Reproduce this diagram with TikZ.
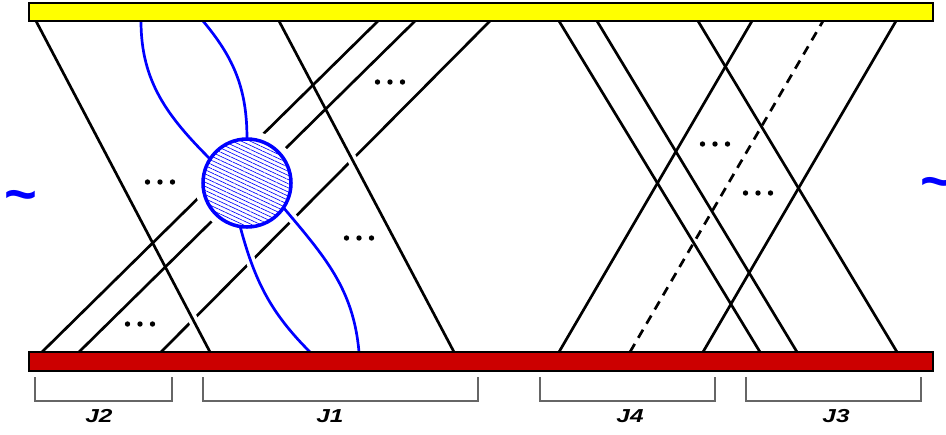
\documentclass[tikz,border=0pt]{standalone}
\usepackage{fontspec}
\setmainfont{Liberation Sans}
\usetikzlibrary{patterns.meta}
\definecolor{baryellow}{HTML}{FFFF00}
\definecolor{barred}{HTML}{CC0000}
\definecolor{brackgrey}{HTML}{666666}

\tikzset{
  strand/.style={line width=2.3pt},
  overstrand/.style={strand,preaction={draw=white,line width=8.5pt}},
  curve/.style={blue,line width=2.3pt},
  overcurve/.style={curve,preaction={draw=white,line width=8.5pt}},
  blobmask/.style={circle,minimum size=2.64cm,inner sep=0pt,outer sep=0pt,
    fill=white,draw=white,line width=14pt},
  blobface/.style={circle,minimum size=2.64cm,inner sep=0pt,outer sep=0pt,
    draw=blue,line width=3pt,preaction={fill=white},
    pattern={Lines[angle=-25,distance=3.2pt,line width=0.55pt]},pattern color=blue},
  bar/.style={draw=black,line width=0.9pt},
  bracket/.style={brackgrey,line width=1pt},
  jlabel/.style={font=\fontsize{16}{18}\selectfont\bfseries\itshape},
  tilde/.style={blue,anchor=base,font=\fontsize{48}{48}\selectfont\bfseries},
  tdots/.pic={\foreach \i in {-1,0,1} \fill (\i*12.5,0) circle (2.7);}
}
\newcommand{\wide}[1]{\scalebox{1.3}[1]{#1}}

\begin{document}
\begin{tikzpicture}[x=0.03cm,y=-0.03cm]
  \useasboundingbox (0,0) rectangle (946,434);
  % End points on the bars
  \coordinate (tA) at (36,21);   \coordinate (bA) at (210,352);
  \coordinate (tB) at (279,21);  \coordinate (bB) at (454,352);
  \coordinate (t1) at (378,21);  \coordinate (b1) at (42,352);
  \coordinate (t2) at (415,21);  \coordinate (b2) at (79,352);
  \coordinate (t3) at (490,21);  \coordinate (b3) at (161,352);
  \coordinate (tc1) at (141,21); \coordinate (tc2) at (203,21);
  \coordinate (bc3) at (310,352); \coordinate (bc4) at (359,352);
  \coordinate (tR1) at (559,21); \coordinate (bR1) at (760,352);
  \coordinate (tR2) at (597,21); \coordinate (bR2) at (797,352);
  \coordinate (tR3) at (698,21); \coordinate (bR3) at (897,352);
  \coordinate (tU1) at (752,21); \coordinate (bU1) at (559,352);
  \coordinate (tU2) at (896,21); \coordinate (bU2) at (703,352);
  \coordinate (tU3) at (823,21); \coordinate (bU3) at (630,352);

  % Left group: lowest strand first
  \draw[strand] (b3) -- (t3);
  \draw[overstrand] (tA) -- (bA);
  \draw[overstrand] (tB) -- (bB);
  \draw[strand] (b1) -- (t1);
  \draw[strand] (b2) -- (t2);
  % Blob and its curves
  \node[blobmask] (blob) at (247,183) {};
  \draw[curve] (tc1) to[out=-90,in=135] (blob.147);
  \draw[curve] (tc2) to[out=-50,in=90] (blob.north);
  \draw[overcurve] (blob.261) to[out=-75,in=135] (bc3);
  \draw[overcurve] (blob.-34) to[out=-50,in=95] (bc4);
  \node[blobface] (face) at (blob.center) {};

  % Right group
  \draw[strand] (tR1) -- (bR1);
  \draw[strand] (tR2) -- (bR2);
  \draw[strand] (tR3) -- (bR3);
  \draw[strand] (bU1) -- (tU1);
  \draw[strand] (bU2) -- (tU2);
  \draw[strand,dash pattern=on 8pt off 6pt] (bU3) -- (tU3);

  % Dots
  \pic (d1) at (160,182) {tdots};
  \pic (d2) at (390,82) {tdots};
  \pic (d3) at (359,238) {tdots};
  \pic (d4) at (140,324) {tdots};
  \pic (d5) at (715,144) {tdots};
  \pic (d6) at (758,193) {tdots};

  % Bars
  \fill[baryellow,bar] (29,3) rectangle (933,21);
  \fill[barred,bar] (29,352) rectangle (933,371);

  % Brackets
  \draw[bracket] (35,377) -- (35,401) -- (172,401) -- (172,377);
  \draw[bracket] (203,377) -- (203,401) -- (478,401) -- (478,377);
  \draw[bracket] (540,377) -- (540,401) -- (715,401) -- (715,377);
  \draw[bracket] (746,377) -- (746,401) -- (921,401) -- (921,377);
  \node[jlabel] (j2) at (99,416) {\wide{J2}};
  \node[jlabel] (j1) at (330,416) {\wide{J1}};
  \node[jlabel] (j4) at (630,416) {\wide{J4}};
  \node[jlabel] (j3) at (836,416) {\wide{J3}};

  % Tildes
  \node[tilde] (tl) at (21,213) {\textasciitilde};
  \node[tilde] (tr) at (937,200) {\textasciitilde};
\end{tikzpicture}
\end{document}
